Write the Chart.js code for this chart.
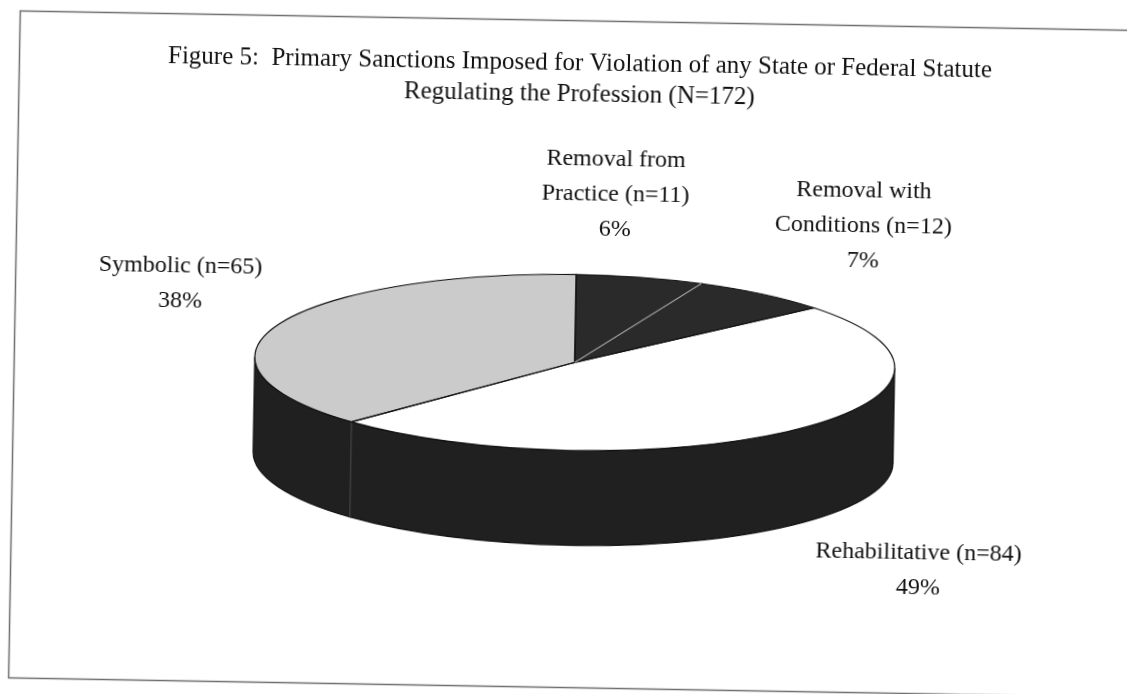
<!DOCTYPE html>
<html>
<head>
<meta charset="utf-8">
<title>Figure 5</title>
<script src="https://cdn.jsdelivr.net/npm/chart.js@4.4.1/dist/chart.umd.min.js"></script>
<style>
  html, body { margin: 0; padding: 0; background: #fff; overflow: hidden; }
  #grafico { display: block; transform: rotate(1deg); }
  #precarga { position: absolute; left: -9999px; font-family: "Liberation Serif"; font-size: 24px; }
</style>
</head>
<body>
<span id="precarga">Figure 5 (n=12) 49%</span>
<canvas id="grafico" width="1127" height="694"></canvas>
<script>
// Datos del gráfico (N=172)
const categorias = ['Removal from Practice', 'Removal with Conditions', 'Rehabilitative', 'Symbolic'];
const casos = [11, 12, 84, 65];
// Cómo se parte cada etiqueta en líneas (la última lleva el n)
const lineasEtiqueta = [['Removal from', 'Practice'], ['Removal with', 'Conditions'], ['Rehabilitative'], ['Symbolic']];
const titulo = ['Figure 5:  Primary Sanctions Imposed for Violation of any State or Federal Statute',
                'Regulating the Profession (N=172)'];

// Estilo
const coloresTapa = ['#2a2a2a', '#2a2a2a', '#ffffff', '#cbcbcb'];
const colorPared = '#202020';
const RX = 320, RY = 88, PROFUNDIDAD = 95;   // elipse y grosor del "pastel 3D"
const desplazaEtiqueta = [[-26, -82], [100, -70], [125, 44], [-99, -39]];
const fuente = '"Liberation Serif"';

// Plugin que aplasta el pastel y le pone las paredes
const pastel3d = {
  id: 'pastel3d',
  beforeDraw(chart) {
    const ctx = chart.ctx;
    ctx.save();
    ctx.strokeStyle = '#6e6e6e';
    ctx.lineWidth = 1.5;
    ctx.strokeRect(14.5, 20.5, 1200, 667);   // marco del recuadro
    ctx.restore();
  },
  beforeDatasetsDraw(chart) {
    const ctx = chart.ctx;
    const arcos = chart.getDatasetMeta(0).data;
    const base = ctx.getTransform();
    const { x, y, outerRadius: R } = arcos[0];
    const sy = RY / R;
    ctx.save();
    ctx.translate(x, y);
    ctx.scale(RX / R, sy);
    ctx.translate(-x, -y);
    const D = PROFUNDIDAD / sy;
    // paredes visibles (mitad delantera)
    arcos.forEach((el) => {
      const a = Math.max(el.startAngle, 0);
      const b = Math.min(el.endAngle, Math.PI);
      if (a >= b) return;
      ctx.beginPath();
      ctx.arc(x, y, R, a, b);
      ctx.lineTo(x + R * Math.cos(b), y + R * Math.sin(b) + D);
      ctx.arc(x, y + D, R, b, a, true);
      ctx.closePath();
      ctx.fillStyle = colorPared;
      ctx.fill();
      const t = ctx.getTransform();
      ctx.setTransform(base);
      ctx.strokeStyle = '#111';
      ctx.lineWidth = 1.2;
      ctx.stroke();
      ctx.setTransform(t);
    });
    // costuras entre porciones sobre la pared
    arcos.forEach((el) => {
      const a = el.startAngle;
      if (a <= 0 || a >= Math.PI) return;
      ctx.beginPath();
      ctx.moveTo(x + R * Math.cos(a), y + R * Math.sin(a));
      ctx.lineTo(x + R * Math.cos(a), y + R * Math.sin(a) + D);
      const t = ctx.getTransform();
      ctx.setTransform(base);
      ctx.strokeStyle = '#5a5a5a';
      ctx.lineWidth = 1;
      ctx.stroke();
      ctx.setTransform(t);
    });
    // la transformación queda activa para que Chart.js dibuje la tapa
  },
  afterDatasetsDraw(chart) {
    const ctx = chart.ctx;
    ctx.restore();
    const arcos = chart.getDatasetMeta(0).data;
    const base = ctx.getTransform();
    const { x, y, outerRadius: R } = arcos[0];
    ctx.save();
    ctx.translate(x, y);
    ctx.scale(RX / R, RY / R);
    ctx.translate(-x, -y);
    // contornos de la tapa
    arcos.forEach((el) => {
      ctx.beginPath();
      ctx.moveTo(x, y);
      ctx.arc(x, y, R, el.startAngle, el.endAngle);
      ctx.closePath();
      const t = ctx.getTransform();
      ctx.setTransform(base);
      ctx.strokeStyle = '#111';
      ctx.lineWidth = 1.2;
      ctx.stroke();
      ctx.setTransform(t);
    });
    // separación clara entre dos porciones oscuras
    arcos.forEach((el, i) => {
      if (i === 0 || coloresTapa[i] !== coloresTapa[i - 1]) return;
      const a = el.startAngle;
      ctx.beginPath();
      ctx.moveTo(x, y);
      ctx.lineTo(x + R * Math.cos(a), y + R * Math.sin(a));
      const t = ctx.getTransform();
      ctx.setTransform(base);
      ctx.strokeStyle = '#a8a8a8';
      ctx.lineWidth = 1.2;
      ctx.stroke();
      ctx.setTransform(t);
    });
    ctx.restore();
  },
  afterDraw(chart) {
    const ctx = chart.ctx;
    const arcos = chart.getDatasetMeta(0).data;
    const total = casos.reduce((s, v) => s + v, 0);
    ctx.save();
    ctx.font = '24px ' + fuente;
    ctx.fillStyle = '#111';
    ctx.textAlign = 'center';
    ctx.textBaseline = 'middle';
    arcos.forEach((el, i) => {
      const medio = (el.startAngle + el.endAngle) / 2;
      let px = el.x + RX * Math.cos(medio);
      let py = el.y + RY * Math.sin(medio) + (Math.sin(medio) > 0 ? PROFUNDIDAD : 0);
      px += desplazaEtiqueta[i][0];
      py += desplazaEtiqueta[i][1];
      const lineas = lineasEtiqueta[i].slice();
      lineas[lineas.length - 1] += ' (n=' + casos[i] + ')';
      lineas.push(Math.round(casos[i] / total * 100) + '%');
      const alto = 35;
      const y0 = py - (lineas.length - 1) * alto / 2;
      lineas.forEach((txt, k) => ctx.fillText(txt, px, y0 + k * alto));
    });
    ctx.restore();
  }
};

function dibujar() {
  const ctx = document.getElementById('grafico').getContext('2d');
  const miGrafico = new Chart(ctx, {
    type: 'pie',
    data: {
      labels: categorias,
      datasets: [{
        data: casos,
        backgroundColor: coloresTapa,
        borderWidth: 0
      }]
    },
    options: {
      responsive: false,
      animation: false,
      events: [],
      layout: { padding: { left: 40, right: 17, top: 0, bottom: 90 } },
      plugins: {
        legend: { display: false },
        tooltip: { enabled: false },
        title: {
          display: true,
          text: titulo,
          color: '#111',
          font: { family: fuente, size: 25, weight: 'normal', lineHeight: 1.25 },
          padding: { top: 48, bottom: 10 }
        }
      }
    },
    plugins: [pastel3d]
  });
}

// esperar a la fuente antes de dibujar en el canvas
document.fonts.load('24px "Liberation Serif"').then(dibujar, dibujar);
</script>
</body>
</html>
